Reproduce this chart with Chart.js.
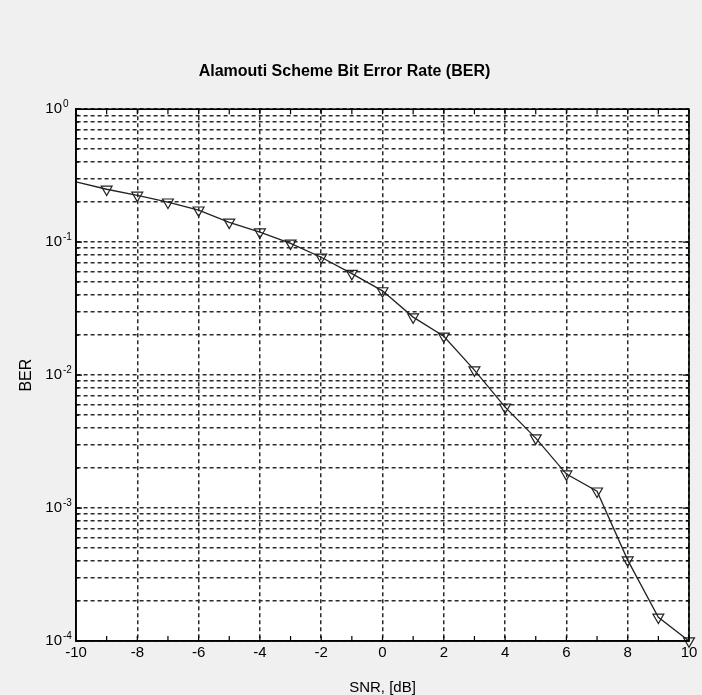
<!DOCTYPE html>
<html>
<head>
<meta charset="utf-8">
<script src="https://cdn.jsdelivr.net/npm/chart.js@4/dist/chart.umd.min.js"></script>
<style>
  html, body { margin: 0; padding: 0; background: #f0f0f0; }
  #wrap { width: 702px; height: 695px; position: relative; }
</style>
</head>
<body>
<div id="wrap"><canvas id="berChart"></canvas></div>
<script>
// SNR points (dB) and measured BER
const snrValues = [-10, -9, -8, -7, -6, -5, -4, -3, -2, -1, 0, 1, 2, 3, 4, 5, 6, 7, 8, 9, 10];
const berValues = [0.284, 0.25, 0.225, 0.20, 0.174, 0.141, 0.119, 0.098, 0.077, 0.058, 0.043,
  0.0273, 0.0196, 0.0109, 0.00574, 0.00336, 0.0018, 0.00134, 0.000406, 0.000151, 0.0001];
// no marker drawn on the first point
const markerShown = [0, 1, 1, 1, 1, 1, 1, 1, 1, 1, 1, 1, 1, 1, 1, 1, 1, 1, 1, 1, 1];
const decadeExponents = [0, -1, -2, -3, -4];
const mantissas = [1, 2, 3, 4, 5, 6, 7, 8, 9];

const FONT = "'Liberation Sans', Arial, sans-serif";
Chart.defaults.font.family = FONT;
Chart.defaults.color = '#000';

const isDecade = (v) => {
  const l = Math.log10(v);
  return Math.abs(l - Math.round(l)) < 1e-9;
};

// log ticks at 1..9 x 10^k, like the original grid
const yTickValues = [];
decadeExponents.slice().reverse().forEach(e => {
  if (e === 0) { yTickValues.push(1); return; }
  mantissas.forEach(m => yTickValues.push(Number((m * Math.pow(10, e)).toPrecision(3))));
});

// white plot area, box, inward ticks and the exponents of the y labels
const matlabAxes = {
  id: 'matlabAxes',
  beforeDraw(chart) {
    const { ctx, chartArea: a } = chart;
    ctx.save();
    ctx.fillStyle = '#fff';
    ctx.fillRect(a.left, a.top, a.right - a.left, a.bottom - a.top);
    ctx.restore();
  },
  afterDatasetsDraw(chart) {
    const { ctx, chartArea: a } = chart;
    const xs = chart.scales.x, ys = chart.scales.y;
    ctx.save();
    ctx.strokeStyle = '#000';
    ctx.lineWidth = 1.2;
    ctx.beginPath();
    xs.ticks.forEach(t => {
      const px = xs.getPixelForValue(t.value);
      ctx.moveTo(px, a.bottom); ctx.lineTo(px, a.bottom - 5);
      ctx.moveTo(px, a.top); ctx.lineTo(px, a.top + 5);
    });
    ys.ticks.forEach(t => {
      const py = ys.getPixelForValue(t.value);
      const len = isDecade(t.value) ? 6 : 3;
      ctx.moveTo(a.left, py); ctx.lineTo(a.left + len, py);
      ctx.moveTo(a.right, py); ctx.lineTo(a.right - len, py);
    });
    ctx.stroke();
    ctx.lineWidth = 1.6;
    ctx.strokeRect(a.left, a.top, a.right - a.left, a.bottom - a.top);

    ctx.fillStyle = '#000';
    ctx.font = '10px ' + FONT;
    ctx.textAlign = 'left';
    ctx.textBaseline = 'alphabetic';
    decadeExponents.forEach(e => {
      const py = ys.getPixelForValue(Math.pow(10, e));
      ctx.fillText(String(e), a.left - 13, py - 2);
    });
    ctx.restore();
  }
};

new Chart(document.getElementById('berChart'), {
  type: 'line',
  data: {
    datasets: [{
      label: 'BER',
      data: snrValues.map((s, i) => ({ x: s, y: berValues[i] })),
      borderColor: '#222',
      borderWidth: 1.3,
      tension: 0,
      pointStyle: 'triangle',
      rotation: 180,
      pointRadius: markerShown.map(m => m ? 6.3 : 0),
      pointBorderColor: '#222',
      pointBackgroundColor: 'rgba(0,0,0,0)',
      pointBorderWidth: 1.2,
      clip: false
    }]
  },
  options: {
    responsive: true,
    maintainAspectRatio: false,
    animation: false,
    layout: { padding: { left: 0, right: 13, top: 0, bottom: 0 } },
    plugins: {
      legend: { display: false },
      tooltip: { enabled: false },
      title: {
        display: true,
        text: 'Alamouti Scheme Bit Error Rate (BER)',
        font: { size: 16, weight: 'bold' },
        color: '#000',
        padding: { top: 62, bottom: 28 }
      }
    },
    scales: {
      x: {
        type: 'linear',
        min: -10,
        max: 10,
        afterFit: (s) => { s.height = 54; },
        ticks: {
          stepSize: 1,
          autoSkip: false,
          maxRotation: 0,
          padding: 3,
          font: { size: 15 },
          callback: (v) => (v % 2 === 0 ? String(v) : '')
        },
        grid: {
          drawTicks: false,
          lineWidth: 1.5,
          color: (c) => (c.tick && c.tick.value % 2 === 0 ? '#2a2a2a' : 'rgba(0,0,0,0)')
        },
        border: { display: true, color: '#000', width: 1.6, dash: [4, 3] },
        title: {
          display: true,
          text: 'SNR, [dB]',
          font: { size: 15, lineHeight: 1 },
          padding: { top: 0, bottom: 0 }
        }
      },
      y: {
        type: 'logarithmic',
        min: 0.0001,
        max: 1,
        afterFit: (s) => { s.width = 76; },
        afterBuildTicks: (s) => { s.ticks = yTickValues.map(v => ({ value: v })); },
        ticks: {
          autoSkip: false,
          padding: 14,
          font: { size: 15 },
          callback: (v) => (isDecade(v) ? '10' : '')
        },
        grid: {
          drawTicks: false,
          lineWidth: 1.5,
          color: '#2a2a2a'
        },
        border: { display: true, color: '#000', width: 1.6, dash: [4, 3] },
        title: {
          display: true,
          text: 'BER',
          font: { size: 16 },
          padding: { top: 17, bottom: 0 }
        }
      }
    }
  },
  plugins: [matlabAxes]
});
</script>
</body>
</html>
